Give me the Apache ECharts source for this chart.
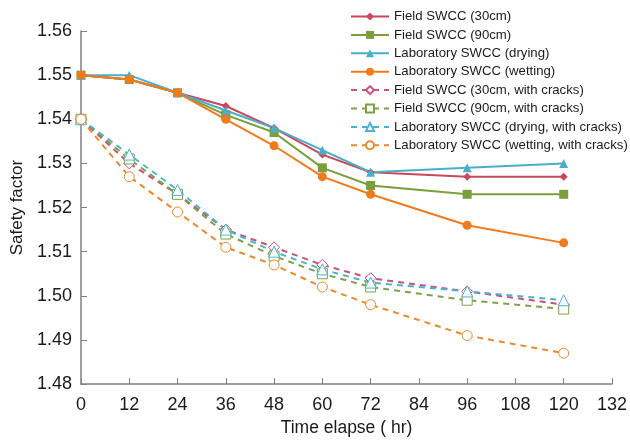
<!DOCTYPE html>
<html>
<head>
<meta charset="utf-8">
<script src="https://cdn.jsdelivr.net/npm/echarts@6/dist/echarts.min.js"></script>
<style>
html,body{margin:0;padding:0;background:#fff;}
#main{width:630px;height:442px;}
</style>
</head>
<body>
<div id="main"></div>
<script>
// time points (hr)
const hours = [0, 12, 24, 36, 48, 60, 72, 96, 120];

// safety factor, no cracks
const field30 = [1.550, 1.549, 1.546, 1.543, 1.538, 1.532, 1.528, 1.527, 1.527];
const field90 = [1.550, 1.549, 1.546, 1.541, 1.537, 1.529, 1.525, 1.523, 1.523];
const labDry  = [1.550, 1.550, 1.546, 1.542, 1.538, 1.533, 1.528, 1.529, 1.530];
const labWet  = [1.550, 1.549, 1.546, 1.540, 1.534, 1.527, 1.523, 1.516, 1.512];

// safety factor, with cracks
const field30c = [1.540, 1.530, 1.523, 1.515, 1.511, 1.507, 1.504, 1.501, 1.498];
const field90c = [1.540, 1.531, 1.523, 1.514, 1.509, 1.505, 1.502, 1.499, 1.497];
const labDryc  = [1.540, 1.532, 1.524, 1.515, 1.510, 1.506, 1.503, 1.501, 1.499];
const labWetc  = [1.540, 1.527, 1.519, 1.511, 1.507, 1.502, 1.498, 1.491, 1.487];

const names = [
  'Field SWCC (30cm)',
  'Field SWCC (90cm)',
  'Laboratory SWCC (drying)',
  'Laboratory SWCC (wetting)',
  'Field SWCC (30cm, with cracks)',
  'Field SWCC (90cm, with cracks)',
  'Laboratory SWCC (drying, with cracks)',
  'Laboratory SWCC (wetting, with cracks)'
];

const chart = echarts.init(document.getElementById('main'), null, {renderer: 'canvas'});

function pair(arr) {
  return hours.map((h, i) => [h, arr[i]]);
}

function solid(name, data, color, symbol, size) {
  return {
    name: name,
    type: 'line',
    data: pair(data),
    symbol: symbol,
    symbolSize: size,
    lineStyle: {color: color, width: 2},
    itemStyle: {color: color},
    z: 3
  };
}

function dashed(name, data, color, symbol, size) {
  return {
    name: name,
    type: 'line',
    data: pair(data),
    symbol: symbol,
    symbolSize: size,
    showAllSymbol: true,
    lineStyle: {color: color, width: 2, type: [6, 5]},
    itemStyle: {color: '#fff', borderColor: color, borderWidth: 1},
    z: 2
  };
}

const option = {
  backgroundColor: '#fff',
  textStyle: {fontFamily: 'Liberation Sans, Arial, sans-serif'},
  animation: false,
  grid: {left: 81, right: 13, top: 31, bottom: 56},
  legend: {
    orient: 'vertical',
    left: 350,
    top: 10,
    padding: 0,
    itemWidth: 38,
    itemHeight: 10,
    itemGap: 5.4,
    textStyle: {fontSize: 13.2, color: '#1a1a1a', fontFamily: 'Liberation Sans, Arial, sans-serif'},
    data: names
  },
  xAxis: {
    type: 'value',
    min: 0,
    max: 132,
    interval: 12,
    name: 'Time elapse ( hr)',
    nameLocation: 'middle',
    nameGap: 33,
    nameTextStyle: {fontSize: 17.5, color: '#1a1a1a'},
    axisLine: {lineStyle: {color: '#808080', width: 1.5}},
    axisTick: {inside: true, length: 6, lineStyle: {color: '#808080'}},
    axisLabel: {fontSize: 18, color: '#1a1a1a', margin: 12},
    splitLine: {show: false}
  },
  yAxis: {
    type: 'value',
    min: 1.48,
    max: 1.56,
    interval: 0.01,
    name: 'Safety factor',
    nameLocation: 'middle',
    nameGap: 55,
    nameTextStyle: {fontSize: 17, color: '#1a1a1a'},
    axisLine: {show: true, lineStyle: {color: '#808080', width: 1.5}},
    axisTick: {show: true, inside: true, length: 6, lineStyle: {color: '#808080'}},
    axisLabel: {fontSize: 18, color: '#1a1a1a', margin: 9, formatter: v => v.toFixed(2)},
    splitLine: {show: false}
  },
  series: [
    solid(names[0], field30, '#C8475A', 'diamond', 8),
    solid(names[1], field90, '#7A9E3B', 'rect', 9),
    solid(names[2], labDry, '#4BAEC8', 'triangle', 9),
    solid(names[3], labWet, '#F07A1E', 'circle', 9),
    dashed(names[4], field30c, '#C8507A', 'diamond', 11),
    dashed(names[5], field90c, '#7EA048', 'rect', 10),
    dashed(names[6], labDryc, '#4BB4CC', 'triangle', 11),
    dashed(names[7], labWetc, '#E88A30', 'circle', 10)
  ]
};

chart.setOption(option);
</script>
</body>
</html>
